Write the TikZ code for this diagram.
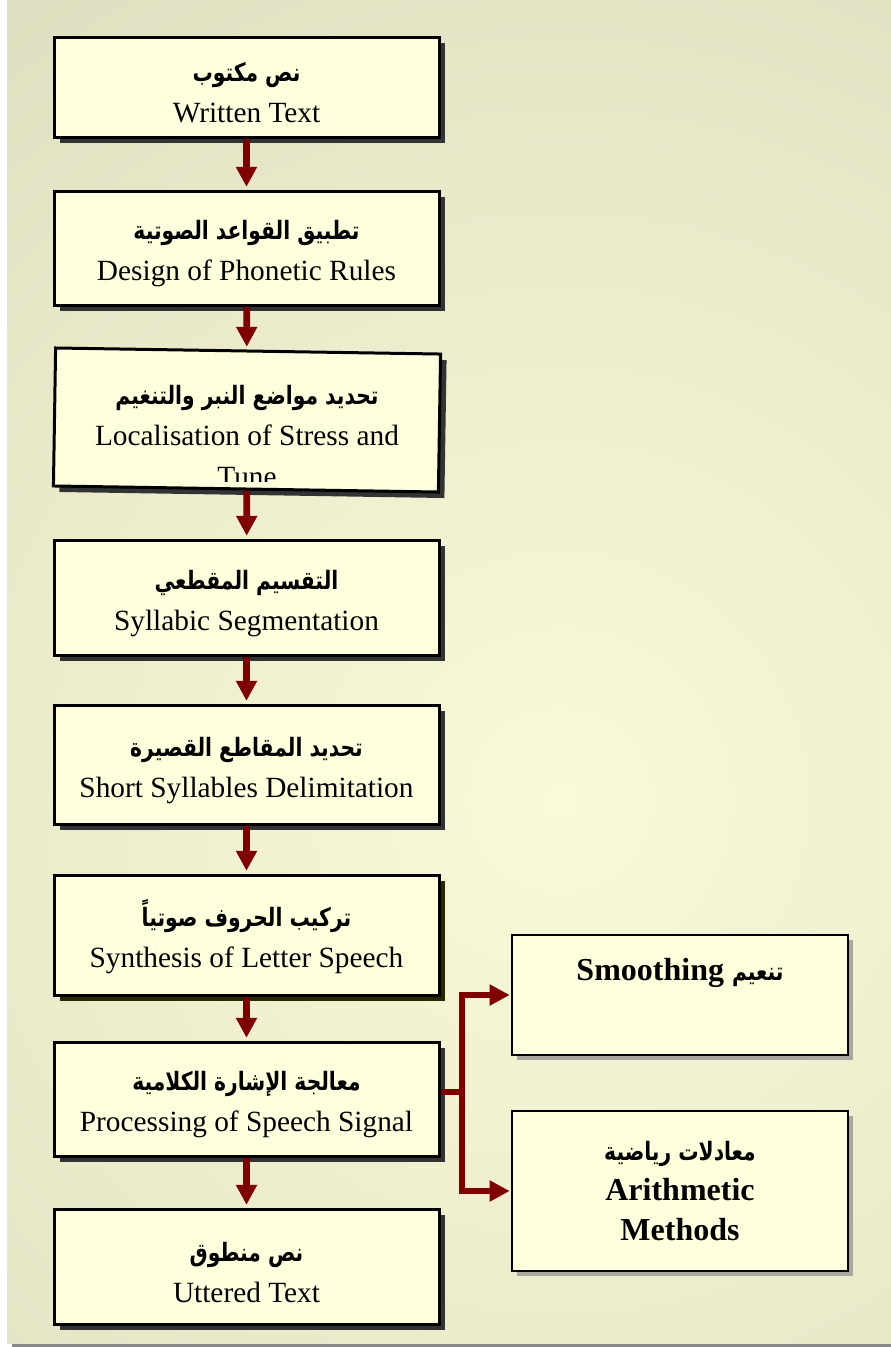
\documentclass[tikz,border=0pt]{standalone}
\usepackage{fontspec}
\setmainfont{Liberation Serif}
\newfontfamily\arabicfont[Script=Arabic, FakeStretch=0.8]{DejaVu Sans}
\TeXXeTstate=1
\usepackage{tikz}
\usetikzlibrary{arrows.meta,shadows}

\definecolor{boxfill}{RGB}{255,255,221}
\definecolor{shadowgray}{RGB}{51,51,51}
\definecolor{shadowolive}{RGB}{40,40,0}
\definecolor{sidegray}{RGB}{168,168,160}
\definecolor{arrowred}{RGB}{128,0,0}
\definecolor{bgdark}{RGB}{221,219,189}
\definecolor{bglight}{RGB}{250,250,218}
\definecolor{edgegray}{RGB}{136,136,136}

\newcommand{\artxt}[1]{{\arabicfont\bfseries\fontsize{19}{31}\selectfont\beginR #1\endR}}
\newcommand{\steplines}[2]{\rule{0pt}{23pt}\artxt{#1}\\ #2}

\tikzset{
    steptext/.style={align=center, inner sep=0pt, font=\fontsize{22}{31}\selectfont},
    stepbox/.style={steptext, draw=black, line width=2.25pt, fill=boxfill, minimum width=288.75pt,
        drop shadow={shadow xshift=4.5pt, shadow yshift=-4.5pt, fill=#1, opacity=1}},
    stepbox/.default=shadowgray,
    sidebox/.style={draw=black, line width=1.5pt, fill=boxfill, minimum width=252pt, inner sep=0pt,
        align=center, font=\bfseries\fontsize{24}{30}\selectfont,
        drop shadow={shadow xshift=3.75pt, shadow yshift=-3.75pt, fill=sidegray, opacity=1}},
    flow/.style={draw=arrowred, line width=5pt, -{Triangle[length=15pt, width=15pt]}, shorten >=2pt},
    branch/.style={draw=arrowred, line width=4pt, -{Triangle[length=15pt, width=15pt]}, shorten >=1pt},
}

\begin{document}
\begin{tikzpicture}[x=0.75pt, y=-0.75pt]
    \useasboundingbox (0,0) rectangle (891,1347);

    % background panel
    \fill[edgegray] (12,1343) rectangle (891,1347);
    \fill[bgdark] (7,0) rectangle (891,1343);
    \begin{scope}
        \clip (7,0) rectangle (891,1343);
        \shade[inner color=bglight, outer color=bgdark] (560,800) circle (1100);
    \end{scope}

    % main column
    \node[stepbox, minimum height=75pt] (b1) at (246.5, 87) {\steplines{نص مكتوب}{Written Text}};
    \node[stepbox, minimum height=85.5pt] (b2) at (246.5, 248) {\steplines{تطبيق القواعد الصوتية}{Design of Phonetic Rules}};
    \node[stepbox, rotate=-0.9, minimum height=103.5pt] (b3) at (247, 420) {};
    \begin{scope}
        \clip (40,340) rectangle (460,481);
        \node[steptext] (t3) at (247, 436) {\artxt{تحديد مواضع النبر والتنغيم}\\ Localisation of Stress and\\ Tune};
    \end{scope}
    \node[stepbox, minimum height=86.25pt] (b4) at (246.5, 597.5) {\steplines{التقسيم المقطعي}{Syllabic Segmentation}};
    \node[stepbox, minimum height=89.25pt] (b5) at (246.5, 764.5) {\steplines{تحديد المقاطع القصيرة}{Short Syllables Delimitation}};
    \node[stepbox=shadowolive, minimum height=90pt] (b6) at (246.5, 935) {\steplines{تركيب الحروف صوتياً}{Synthesis of Letter Speech}};
    \node[stepbox, minimum height=85.5pt] (b7) at (246.5, 1099) {\steplines{معالجة الإشارة الكلامية}{Processing of Speech Signal}};
    \node[stepbox, minimum height=86.25pt] (b8) at (246.5, 1266.5) {\steplines{نص منطوق}{Uttered Text}};

    % side boxes
    \node[sidebox, minimum height=90pt] (smooth) at (680, 995) {Smoothing \artxt{تنعيم}\\ \strut};
    \node[sidebox, minimum height=120pt] (arith) at (680, 1191) {\artxt{معادلات رياضية}\\ Arithmetic\\ Methods};

    \draw[flow] (b1) -- (b2);
    \draw[flow] (b2) -- (b3);
    \draw[flow] (b3) -- (b4);
    \draw[flow] (b4) -- (b5);
    \draw[flow] (b5) -- (b6);
    \draw[flow] (b6) -- (b7);
    \draw[flow] (b7) -- (b8);

    \coordinate (fork) at (462, 1092);
    \draw[branch] (b7.east |- fork) -- (fork) |- (smooth.west);
    \draw[branch] (fork) |- (arith.west);
\end{tikzpicture}
\end{document}
